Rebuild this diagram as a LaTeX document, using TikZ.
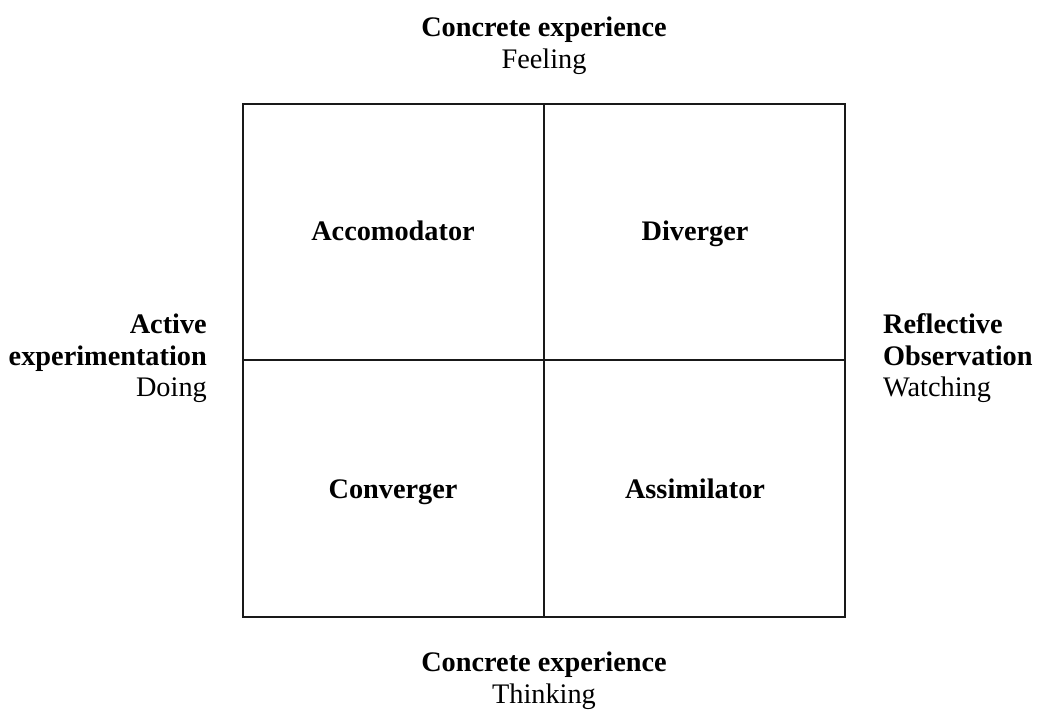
\documentclass[tikz,border=0pt]{standalone}
\usepackage{fontspec}
\setmainfont{Liberation Serif}
\begin{document}
\begin{tikzpicture}[x=1pt,y=-1pt,
  lbl/.style={inner sep=0pt,font=\fontsize{28.3}{31.5}\selectfont},
  quad/.style={inner sep=0pt,anchor=base,font=\fontsize{28.3}{31.5}\selectfont\bfseries},
  grid/.style={line width=1.8pt,black!90}]
\useasboundingbox (0,0) rectangle (1044,716);
\draw[grid] (243,104) rectangle (845,617);
\draw[grid] (544,104) -- (544,617);
\draw[grid] (243,360) -- (845,360);
\node[quad] (acc) at (393,240) {Accomodator};
\node[quad] (div) at (695,240) {Diverger};
\node[quad] (con) at (393,498) {Converger};
\node[quad] (ass) at (695,498) {Assimilator};
\node[lbl,anchor=base,align=center] (top) at (544,68) {\textbf{Concrete experience}\\Feeling};
\node[lbl,anchor=base,align=center] (bot) at (544,703) {\textbf{Concrete experience}\\Thinking};
\node[lbl,anchor=base east,align=right] (left) at (207,396.5) {\textbf{Active}\\\textbf{experimentation}\\Doing};
\node[lbl,anchor=base west,align=left] (right) at (883,396.5) {\textbf{Reflective}\\\textbf{Observation}\\Watching};
\end{tikzpicture}
\end{document}
